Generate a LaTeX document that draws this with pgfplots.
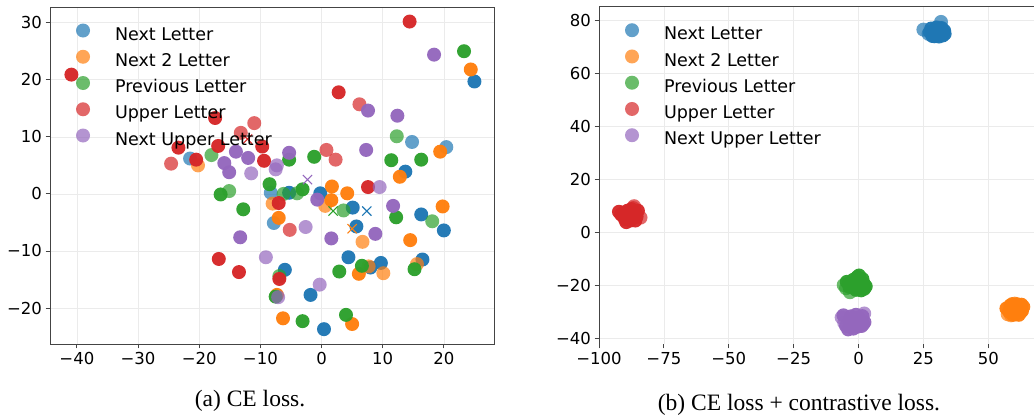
\documentclass[border=0pt]{standalone}
\usepackage{pgfplots}
\pgfplotsset{compat=1.18}
\usepackage{fontspec}
\setmainfont{DejaVu Sans}
\newfontfamily\capfont{Liberation Serif}
\definecolor{tblue}{HTML}{1F77B4}
\definecolor{torange}{HTML}{FF7F0E}
\definecolor{tgreen}{HTML}{2CA02C}
\definecolor{tred}{HTML}{D62728}
\definecolor{tpurple}{HTML}{9467BD}
\definecolor{spine}{HTML}{444444}
\pgfplotsset{
  myax/.style={
    scale only axis,
    axis line style={spine, line width=0.9pt},
    tick style={spine, line width=0.9pt},
    tick align=outside,
    major tick length=4.5pt,
    tick pos=left,
    grid=major,
    major grid style={black!8, line width=0.6pt},
    ticklabel style={font=\fontsize{16.5}{19}\selectfont},
    legend cell align=left,
    legend style={draw=none, fill=none, inner sep=0pt, outer sep=0pt, anchor=north west,
      font=\fontsize{17.5}{21}\selectfont, row sep=5.4pt, column sep=25pt,
      nodes={inner sep=0pt, text height=13.5pt, text depth=4.2pt}},
    legend image code/.code={\path[draw=none, fill=none] (-7pt,-2pt) rectangle (7pt,12pt); \draw[##1] plot coordinates {(0pt,5pt)};},
  },
  lt/.style={only marks, mark=*, mark size=7pt, draw=none, mark options={draw opacity=0, fill=#1, fill opacity=0.7}},
  dk/.style={only marks, mark=*, mark size=7pt, draw=none, mark options={draw opacity=0, fill=#1, fill opacity=0.97}, forget plot},
  cx/.style={only marks, mark=x, mark size=6.5pt, mark options={draw=#1, line width=1.1pt}, forget plot},
}
\begin{document}
\begin{tikzpicture}
\path[use as bounding box] (0,0) rectangle (1034pt,-419pt);
% ---------------- (a) CE loss
\begin{axis}[myax, at={(50pt,-344pt)}, anchor=south west, width=444pt, height=337pt,
  xmin=-44.4, xmax=28.2, ymin=-26.3, ymax=32.75,
  xtick={-40,-30,-20,-10,0,10,20}, xticklabels={−40,−30,−20,−10,0,10,20},
  ytick={-20,-10,0,10,20,30}, yticklabels={−20,−10,0,10,20,30},
  legend style={at={(0.0586,0.951)}}]
% Next Letter
\addplot[lt=tblue] coordinates {(-21.5,6.2) (14.8,9.1) (20.4,8.2) (-8.3,0.2) (-7.8,-5.1)};
\addlegendentry{Next Letter}
\addplot[dk=tblue] coordinates {(25.0,19.7) (13.7,3.9) (-0.2,0.1) (5.1,-2.4) (5.7,-5.7) (16.3,-3.6) (20.0,-6.4) (-6.0,-13.3) (-1.8,-17.7) (4.4,-11.1) (9.7,-12.1) (8.0,-12.9) (16.5,-11.5) (0.4,-23.7) (-5.3,0.2)};
% Next 2 Letter
\addplot[lt=torange] coordinates {(-20.2,5.0) (-8.0,-1.7) (0.6,-2.1) (6.7,-8.4) (7.7,-12.7) (10.1,-13.9) (15.6,-12.3)};
\addlegendentry{Next 2 Letter}
\addplot[dk=torange] coordinates {(24.4,21.8) (19.4,7.4) (12.8,3.0) (1.7,1.3) (4.2,0.1) (1.6,-1.1) (19.8,-2.2) (14.5,-8.1) (-7.0,-4.2) (6.1,-14.0) (-7.3,-17.7) (-6.3,-21.8) (5.0,-22.8)};
% Previous Letter
\addplot[lt=tgreen] coordinates {(-18.0,6.8) (-15.1,0.5) (-6.2,0.0) (-4.0,0.1) (12.3,10.1) (3.6,-2.9) (18.1,-4.8) (-6.9,-14.4)};
\addlegendentry{Previous Letter}
\addplot[dk=tgreen] coordinates {(23.3,25.0) (-16.5,-0.1) (-8.5,1.7) (-3.1,0.8) (-1.2,6.5) (11.4,5.9) (16.3,6.0) (-12.8,-2.7) (12.2,-4.1) (2.9,-13.6) (6.6,-12.6) (15.2,-13.2) (-7.5,-18.0) (-3.1,-22.3) (4.0,-21.2) (-5.3,6.0)};
% Upper Letter
\addplot[lt=tred] coordinates {(-13.2,10.7) (-11.0,12.4) (-24.6,5.3) (0.8,7.7) (2.3,6.0) (6.2,15.7) (-5.2,-6.3)};
\addlegendentry{Upper Letter}
\addplot[dk=tred] coordinates {(-40.9,20.9) (-17.4,13.3) (-23.4,8.1) (-16.9,8.4) (-20.5,6.0) (-9.7,8.3) (-9.4,5.8) (14.4,30.2) (2.8,17.8) (7.6,1.2) (-7.0,-1.6) (-16.8,-11.4) (-13.5,-13.7) (-6.9,-14.9)};
% Next Upper Letter
\addplot[lt=tpurple] coordinates {(-11.5,3.6) (-7.3,5.0) (-7.5,4.3) (9.5,1.2) (-2.6,-5.8) (-9.1,-11.1) (-0.3,-15.9) (-7.1,-18.1)};
\addlegendentry{Next Upper Letter}
\addplot[dk=tpurple] coordinates {(-14.0,7.4) (-12.0,6.3) (-15.9,5.4) (-15.1,3.8) (-5.3,7.2) (18.4,24.4) (7.6,14.6) (12.4,13.7) (7.3,7.7) (-0.7,-1.0) (11.7,-2.1) (-13.3,-7.6) (1.6,-7.8) (8.8,-7.0)};
% centres
\addplot[cx=tblue] coordinates {(7.4,-3.0)};
\addplot[cx=torange] coordinates {(5.0,-6.1)};
\addplot[cx=tgreen] coordinates {(1.9,-3.0)};
\addplot[cx=tred] coordinates {(-12.1,9.6)};
\addplot[cx=tpurple] coordinates {(-2.3,2.5)};
\end{axis}
% ---------------- (b) CE loss + contrastive loss
\begin{axis}[myax, at={(599pt,-344pt)}, anchor=south west, width=435pt, height=338pt,
  xmin=-100, xmax=67.63, ymin=-42, ymax=85.3,
  axis line style={draw=none},
  xtick={-100,-75,-50,-25,0,25,50}, xticklabels={−100,−75,−50,−25,0,25,50},
  ytick={-40,-20,0,20,40,60,80}, yticklabels={−40,−20,0,20,40,60,80},
  legend style={at={(0.0598,0.949)}}]
\draw[spine, line width=0.9pt] (rel axis cs:1,1) -- (rel axis cs:0,1) -- (rel axis cs:0,0) -- (rel axis cs:1,0);
% Next Letter
\addplot[lt=tblue] coordinates {(25.0,76.4) (31.8,79.3) (27.0,74.8)};
\addlegendentry{Next Letter}
\addplot[dk=tblue] coordinates {(27.5,75.5) (28.5,74.0) (29.5,76.5) (30.5,74.5) (31.5,75.8) (32.5,74.2) (33.0,76.0) (29.0,75.0) (30.0,77.2) (31.0,73.8) (28.0,76.8) (32.0,77.0) (30.5,75.5) (29.2,73.9) (33.2,74.8) (31.5,76.8) (30.0,74.0)};
% Next 2 Letter
\addplot[lt=torange] coordinates {(57.5,-30.8) (58.8,-31.2) (60.2,-26.8)};
\addlegendentry{Next 2 Letter}
\addplot[dk=torange] coordinates {(57,-28.6) (58.5,-27.5) (59,-29.5) (60,-28) (60.5,-30.8) (61,-27) (61.5,-29) (62.5,-30) (63.5,-28) (59.5,-31) (58,-29.8) (62,-27.8) (60.8,-29.8) (63,-29.5) (59.2,-27) (61.8,-31) (62.8,-27.2)};
% Previous Letter
\addplot[lt=tgreen] coordinates {(-3.3,-22.5) (-4.8,-21) (-5.7,-19.8)};
\addlegendentry{Previous Letter}
\addplot[dk=tgreen] coordinates {(-4.5,-18.6) (-3.5,-20.5) (-2.5,-19) (-1.5,-20.8) (-0.5,-16.8) (0,-18.5) (0.8,-19.8) (1.5,-17.5) (2.2,-21.2) (2.8,-20.3) (-1,-21.6) (0.2,-16.2) (-2,-17.8) (1.0,-21.8) (-3.8,-19.2) (0.5,-18.0) (2.0,-19.2)};
% Upper Letter
\addplot[lt=tred] coordinates {(-86.5,9.9) (-84,5.6) (-86.8,9.2)};
\addlegendentry{Upper Letter}
\addplot[dk=tred] coordinates {(-92.3,7.8) (-91,6.5) (-90,5) (-89.5,3.9) (-88.5,7) (-87.5,8.8) (-87,5.5) (-86,7.5) (-85.5,6.0) (-88,4.5) (-89,8.2) (-90.5,7.5) (-86,4.5) (-87.5,6.8) (-85,8.2) (-88.5,5.5) (-91.5,6.8)};
% Next Upper Letter
\addplot[lt=tpurple] coordinates {(-5.5,-34) (-6.5,-32) (2.2,-30.5)};
\addlegendentry{Next Upper Letter}
\addplot[dk=tpurple] coordinates {(-4,-36.5) (-3.5,-33) (-2.5,-34.5) (-1.5,-32.5) (-0.5,-35.5) (0.5,-33) (1.5,-31.5) (2.3,-33.8) (1.2,-35.2) (-1,-31) (-4.8,-35.2) (-2,-36.2) (0,-32) (-3,-31.6) (1.8,-34.5) (-5.8,-31.2) (-0.8,-33.8)};
\end{axis}
% captions
\node[font=\capfont\fontsize{23.5}{28}\selectfont] at (250pt,-401pt) {(a) CE loss.};
\node[font=\capfont\fontsize{23.5}{28}\selectfont] at (799pt,-405pt) {(b) CE loss + contrastive loss.};
\end{tikzpicture}
\end{document}
